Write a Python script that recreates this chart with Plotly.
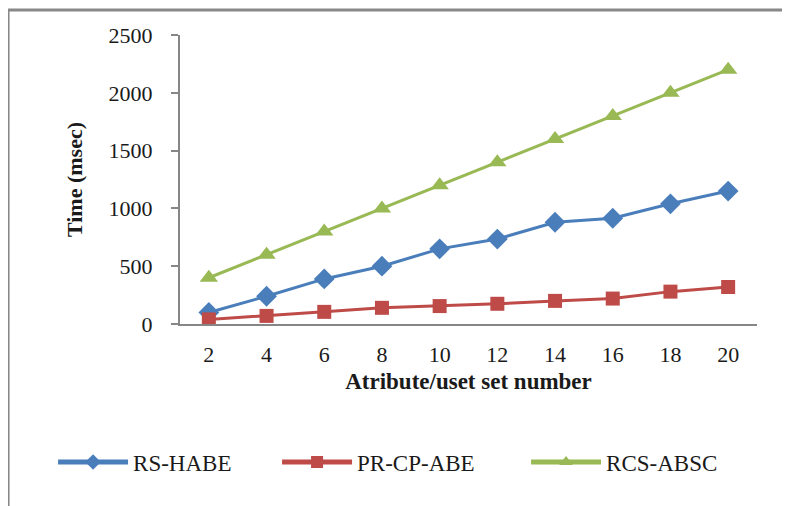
import plotly.graph_objects as go

categories = ["2", "4", "6", "8", "10", "12", "14", "16", "18", "20"]
rs_habe = [100, 240, 390, 500, 650, 735, 880, 915, 1040, 1150]
pr_cp_abe = [40, 70, 105, 140, 155, 175, 200, 220, 280, 320]
rcs_absc = [400, 600, 800, 1000, 1200, 1400, 1600, 1800, 2000, 2200]

series_names = ["RS-HABE", "PR-CP-ABE", "RCS-ABSC"]
colors = ["#4A7EBB", "#BE4B48", "#98B954"]
symbols = ["diamond", "square", "triangle-up"]
sizes = [16, 14, 16]
legend_widths = [139, 164, 140]

FONT = "Liberation Serif, Times New Roman, serif"

fig = go.Figure()
for name, vals, c, s, sz, lw in zip(series_names, [rs_habe, pr_cp_abe, rcs_absc], colors, symbols, sizes, legend_widths):
    fig.add_trace(go.Scatter(
        x=categories, y=vals, name=name, mode="lines+markers",
        line=dict(color=c, width=3),
        marker=dict(symbol=s, size=sz, color=c),
        legendwidth=lw,
    ))

axis_col = "#868686"
fig.update_layout(
    width=782, height=498,
    margin=dict(l=172, r=33, t=27, b=182),
    paper_bgcolor="white", plot_bgcolor="white",
    font=dict(family=FONT, size=22, color="#1a1a1a"),
    showlegend=True,
    legend=dict(orientation="h", x=-0.22, xanchor="left", y=-0.4775, yanchor="middle",
                font=dict(family=FONT, size=23, color="#1a1a1a"),
                itemwidth=70, itemsizing="constant", traceorder="normal"),
    xaxis=dict(type="category", range=[-0.5, 9.5], showline=True, linecolor=axis_col,
               linewidth=2, ticks="", showgrid=False, zeroline=False,
               tickfont=dict(size=22), ticklabelstandoff=10,
               title=dict(text="<b>Atribute/uset set number</b>", font=dict(size=23), standoff=6)),
    yaxis=dict(range=[0, 2500], dtick=500, showline=True, linecolor=axis_col, linewidth=2,
               ticks="outside", ticklen=7, tickcolor=axis_col, tickwidth=2,
               showgrid=False, zeroline=False, tickfont=dict(size=22), ticklabelstandoff=14,
               title=dict(text="<b>Time (msec)</b>", font=dict(size=22), standoff=20)),
    shapes=[
        dict(type="line", xref="paper", yref="paper", x0=-0.298, x1=1.06, y0=1.0865, y1=1.0865,
             line=dict(color="#888888", width=3)),
        dict(type="line", xref="paper", yref="paper", x0=-0.298, x1=-0.298, y0=1.0865, y1=-0.64,
             line=dict(color="#888888", width=3)),
    ],
)

fig.write_html("out.html")
